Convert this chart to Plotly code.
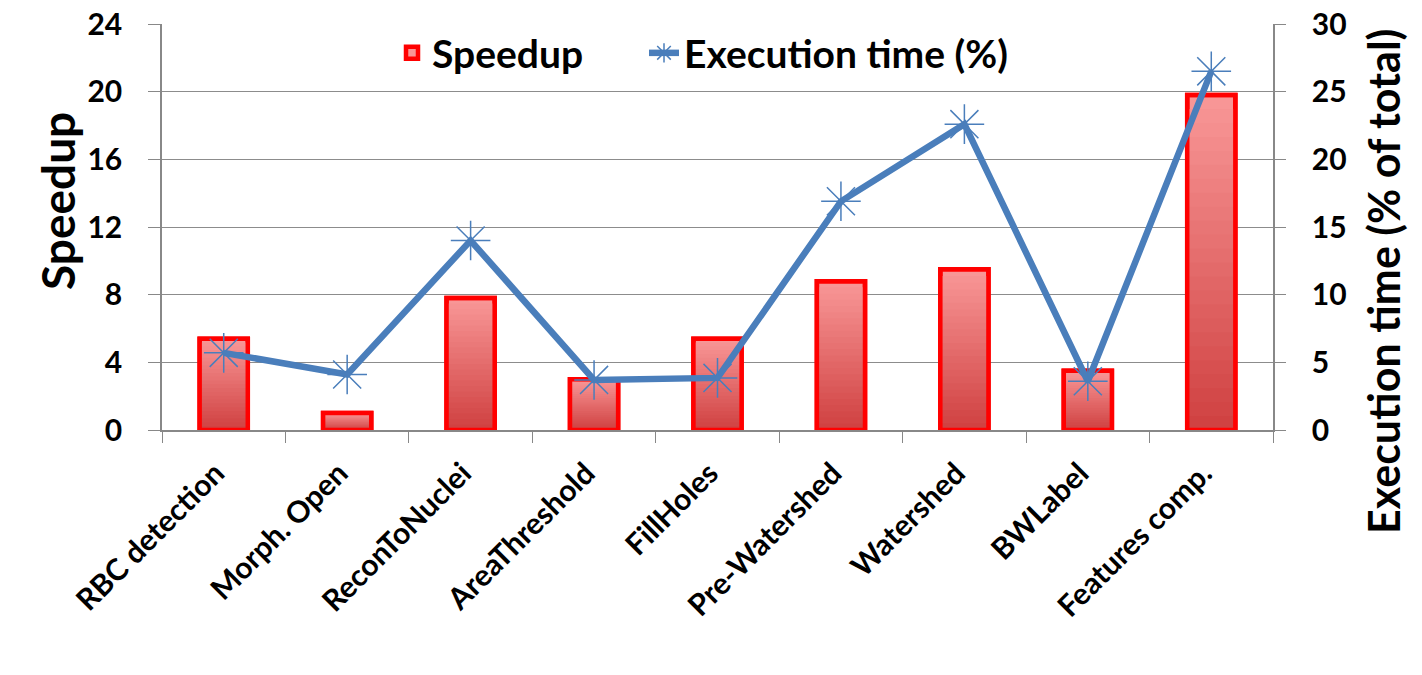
import plotly.graph_objects as go

categories = ["RBC detection", "Morph. Open", "ReconToNuclei", "AreaThreshold",
              "FillHoles", "Pre-Watershed", "Watershed", "BWLabel", "Features comp."]
speedup = [5.4, 1.0, 7.8, 3.0, 5.4, 8.8, 9.5, 3.5, 19.8]
exec_time = [5.7, 4.1, 14.0, 3.7, 3.85, 16.9, 22.6, 3.6, 26.5]
left_ticks = [0, 4, 8, 12, 16, 20, 24]
right_ticks = [0, 5, 10, 15, 20, 25, 30]

FONT = "Lato"
# reference plot area in page pixels
PL, PR, PT, PB = 162, 1273, 24, 430
W, H = 1422, 675
BAR_W = 0.39
RED = "#FF0000"


def px(x):
    return (x - PL) / (PR - PL)


def py(y):
    return (PB - y) / (PB - PT)


def mix(c1, c2, t):
    return "rgb(%d,%d,%d)" % tuple(round(a + (b - a) * t) for a, b in zip(c1, c2))


TOP_C = (249, 152, 152)
BOT_C = (207, 64, 64)

fig = go.Figure()
# vertical gradient fill of the bars (stepped), light at top, dark at bottom
N = 24
for k in range(N, 0, -1):
    frac = k / N
    first = k == N
    fig.add_trace(go.Bar(
        x=categories, y=[v * frac for v in speedup],
        name="Speedup", legend="legend", showlegend=first,
        hoverinfo="skip" if not first else None, width=BAR_W,
        marker=dict(color=mix(BOT_C, TOP_C, (k - 0.5) / N),
                    line=dict(width=4.5 if first else 0, color=RED)),
    ))
# outline on top
fig.add_trace(go.Bar(
    x=categories, y=speedup, showlegend=False, hoverinfo="skip",
    marker=dict(color="rgba(0,0,0,0)", line=dict(color=RED, width=4.5)),
    width=BAR_W,
))
fig.add_trace(go.Scatter(
    x=categories, y=exec_time, name="Execution time (%)", yaxis="y2",
    legend="legend2",
    mode="lines+markers",
    line=dict(color="#4A7EBB", width=6.5),
    marker=dict(symbol="asterisk-open", size=33, color="#4A7EBB",
                line=dict(color="#4A7EBB", width=1.5)),
))

numfont = dict(family=FONT, size=30, color="black", weight="bold")
catfont = dict(family=FONT, size=30, color="black", weight="bold")
legfont = dict(family=FONT, size=39, color="black", weight="bold")
fig.update_layout(
    width=W, height=H, barmode="overlay",
    margin=dict(l=PL, r=W - PR, t=PT, b=H - PB),
    plot_bgcolor="white", paper_bgcolor="white",
    font=dict(family=FONT, color="black"),
    showlegend=True,
    legend=dict(orientation="h", x=px(392), xanchor="left", y=py(21), yanchor="top",
                font=legfont, bgcolor="rgba(0,0,0,0)"),
    legend2=dict(orientation="h", x=px(644), xanchor="left", y=py(21), yanchor="top",
                 font=legfont, bgcolor="rgba(0,0,0,0)"),
    xaxis=dict(
        type="category", range=[-0.5, len(categories) - 0.5],
        tickangle=-45, tickfont=catfont, automargin=False,
        tickson="boundaries", ticks="outside", ticklen=11, tickcolor="#888888",
        ticklabelstandoff=12, ticklabelshift=-8, ticklabeloverflow="allow",
        showline=True, linecolor="#888888", linewidth=1.5, showgrid=False,
    ),
    yaxis=dict(
        range=[0, 24], tickvals=left_ticks, tickfont=numfont, automargin=False,
        showgrid=True, gridcolor="#8c8c8c", gridwidth=1.2, ticklabeloverflow="allow",
        ticks="outside", ticklen=12, tickcolor="#888888", ticklabelstandoff=20,
        showline=True, linecolor="#888888", linewidth=1.5, zeroline=False,
    ),
    yaxis2=dict(
        range=[0, 30], tickvals=right_ticks, overlaying="y", side="right",
        tickfont=numfont, showgrid=False, automargin=False, ticklabeloverflow="allow",
        ticks="outside", ticklen=11, tickcolor="#888888", ticklabelstandoff=20,
        showline=True, linecolor="#888888", linewidth=1.5, zeroline=False,
    ),
    annotations=[
        dict(text="Speedup", xref="paper", yref="paper", x=px(57), y=py(201),
             xanchor="center", yanchor="middle", textangle=-90, showarrow=False,
             font=dict(family=FONT, size=46, color="black", weight="bold")),
        dict(text="Execution time (% of total)", xref="paper", yref="paper",
             x=px(1383), y=py(282), xanchor="center", yanchor="middle",
             textangle=-90, showarrow=False,
             font=dict(family=FONT, size=43, color="black", weight="bold")),
    ],
)
fig.write_html("out.html", config={"displayModeBar": False},
               post_script="document.body.style.margin='0';")
